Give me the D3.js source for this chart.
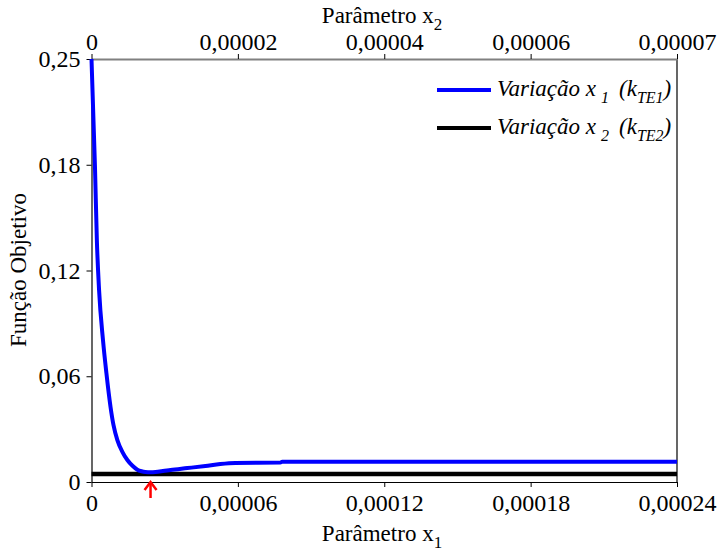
<!DOCTYPE html>
<html><head><meta charset="utf-8">
<script src="https://cdn.jsdelivr.net/npm/d3@7"></script>
</head><body style="margin:0"><svg id="c" width="721" height="555" style="font-family:'Liberation Serif'"></svg>
<script>
// Data
const x1Values = [0, 0.0000014, 0.0000022, 0.0000031, 0.0000047, 0.0000061, 0.0000078, 0.0000090, 0.0000106, 0.0000127, 0.0000147, 0.0000168, 0.0000188, 0.0000205, 0.0000221, 0.0000242, 0.0000262, 0.0000293, 0.0000324, 0.0000393, 0.0000467, 0.0000528, 0.0000590, 0.0000774, 0.0000782, 0.00024];
const objX1 = [0.24, 0.18, 0.137, 0.109, 0.0806, 0.0619, 0.0426, 0.0324, 0.0238, 0.0170, 0.0125, 0.0092, 0.0070, 0.0061, 0.0057, 0.0056, 0.0057, 0.0062, 0.0068, 0.0079, 0.0091, 0.0102, 0.0108, 0.0110, 0.0115, 0.0115];
const x2Values = [0, 0.00008];
const objX2 = [0.0045, 0.0045];
const yTicks = [0, 0.06, 0.12, 0.18, 0.24];
const yTickLabels = ["0", "0,06", "0,12", "0,18", "0,25"];
const x1Ticks = [0, 0.00006, 0.00012, 0.00018, 0.00024];
const x1TickLabels = ["0", "0,00006", "0,00012", "0,00018", "0,00024"];
const x2Ticks = [0, 0.00002, 0.00004, 0.00006, 0.00008];
const x2TickLabels = ["0", "0,00002", "0,00004", "0,00006", "0,00007"];
const minimumX1 = 0.0000242;

const FONT = "'Liberation Serif'";
const svg = d3.select("#c");
const L = 91.5, R = 677, T = 59, B = 482;
const x1 = d3.scaleLinear().domain([0, 0.00024]).range([L, R]);
const x2 = d3.scaleLinear().domain([0, 0.00008]).range([L, R]);
const y = d3.scaleLinear().domain([0, 0.24]).range([B, T]);
const fs = "24px";

function serif(sel, size) {
  return sel.attr("font-family", "Liberation Serif")
    .style("font-family", FONT, "important")
    .style("font-size", size, "important");
}

// right border
svg.append("line").attr("x1", R).attr("x2", R).attr("y1", T).attr("y2", B).attr("stroke", "#000").attr("stroke-width", 1.2);

function styleAxis(g) {
  g.attr("font-family", "Liberation Serif").attr("font-size", null);
  serif(g.selectAll("text"), fs).attr("fill", "#000");
}

// top axis (gray)
const gTop = svg.append("g").attr("transform", `translate(0,${T})`)
  .call(d3.axisTop(x2).tickValues(x2Ticks).tickFormat((d, i) => x2TickLabels[i]).tickSizeOuter(0).tickSizeInner(5).tickPadding(4));
gTop.select(".domain").attr("stroke", "#808080").attr("stroke-width", 2);
gTop.selectAll(".tick line").attr("stroke", "#000");
styleAxis(gTop);

// bottom axis
const gBot = svg.append("g").attr("transform", `translate(0,${B})`)
  .call(d3.axisBottom(x1).tickValues(x1Ticks).tickFormat((d, i) => x1TickLabels[i]).tickSizeOuter(0).tickSizeInner(5).tickPadding(7));
gBot.select(".domain").attr("stroke", "#000").attr("stroke-width", 1.2);
styleAxis(gBot);

// left axis
const gLeft = svg.append("g").attr("transform", `translate(${L},0)`)
  .call(d3.axisLeft(y).tickValues(yTicks).tickFormat((d, i) => yTickLabels[i]).tickSizeOuter(0).tickSizeInner(5).tickPadding(6));
gLeft.select(".domain").attr("stroke", "#000").attr("stroke-width", 1.2);
styleAxis(gLeft);

// series
svg.append("path").datum(x2Values.map((v, i) => [v, objX2[i]]))
  .attr("d", d3.line().x(d => x2(d[0])).y(d => y(d[1])))
  .attr("fill", "none").attr("stroke", "#000").attr("stroke-width", 4.5);
svg.append("path").datum(x1Values.map((v, i) => [v, objX1[i]]))
  .attr("d", d3.line().x(d => x1(d[0])).y(d => y(d[1])).curve(d3.curveMonotoneX))
  .attr("fill", "none").attr("stroke", "#0000ff").attr("stroke-width", 4);

// red arrow
const ax = x1(minimumX1);
svg.append("line").attr("x1", ax).attr("x2", ax).attr("y1", B + 2).attr("y2", B + 16).attr("stroke", "red").attr("stroke-width", 2.5);
svg.append("path").attr("d", `M${ax - 6},${B + 8} L${ax},${B} L${ax + 6},${B + 8}`).attr("fill", "none").attr("stroke", "red").attr("stroke-width", 2.5);

// axis titles
function title(x, yy, main, sub, rot) {
  const t = serif(svg.append("text").attr("x", x).attr("y", yy).attr("text-anchor", "middle"), "23px").attr("fill", "#000");
  if (rot) t.attr("transform", `rotate(-90,${x},${yy})`);
  t.append("tspan").text(main);
  if (sub) serif(t.append("tspan").attr("dy", 7), "17px").text(sub);
  return t;
}
title(382, 23, "Parâmetro x", "2");
title(382, 541, "Parâmetro x", "1");
title(26, 270, "Função Objetivo", null, true);

// legend
const legend = [
  {color: "#0000ff", sub: "1", k: "TE1", y: 90},
  {color: "#000", sub: "2", k: "TE2", y: 128}
];
legend.forEach(l => {
  svg.append("line").attr("x1", 437).attr("x2", 491).attr("y1", l.y).attr("y2", l.y).attr("stroke", l.color).attr("stroke-width", 4);
  const t = serif(svg.append("text").attr("x", 497).attr("y", l.y + 6).attr("fill", "#000"), "23px")
    .style("font-style", "italic");
  t.append("tspan").text("Variação x");
  serif(t.append("tspan").attr("dx", 5).attr("dy", 7), "16px").text(l.sub);
  t.append("tspan").attr("dx", 10).attr("dy", -7).text("(k");
  serif(t.append("tspan").attr("dy", 7), "16px").text(l.k);
  t.append("tspan").attr("dy", -7).text(")");
});
</script></body></html>
